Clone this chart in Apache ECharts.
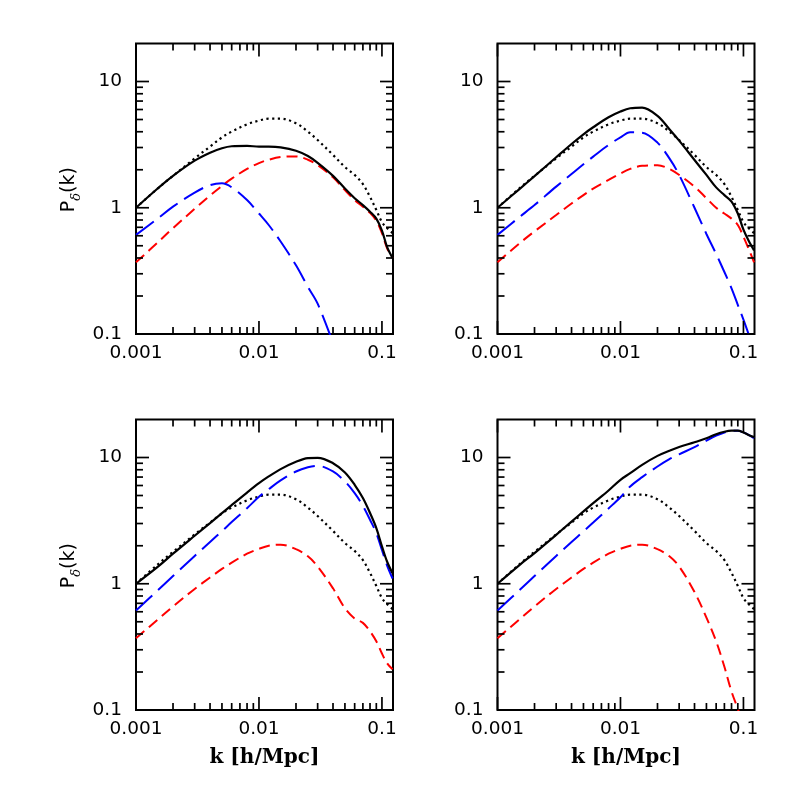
<!DOCTYPE html>
<html><head><meta charset="utf-8">
<script src="https://cdn.jsdelivr.net/npm/echarts@6/dist/echarts.min.js"></script>
<style>html,body{margin:0;padding:0;background:#fff}#c{width:797px;height:797px}</style>
</head><body><div id="c"></div><script>
// wavenumbers k [h/Mpc]
const kValues = [0.001, 0.0015, 0.002, 0.003, 0.004, 0.005, 0.006, 0.008, 0.01, 0.012, 0.015, 0.02, 0.025, 0.03, 0.04, 0.05, 0.06, 0.07, 0.08, 0.09, 0.1, 0.11, 0.122];
// dotted reference curve (same in all panels)
const linearP = [1.0, 1.42, 1.79, 2.46, 3.05, 3.61, 4.01, 4.58, 4.9, 5.08, 5.08, 4.67, 4.01, 3.44, 2.62, 2.1, 1.82, 1.54, 1.22, 0.96, 0.77, 0.69, 0.63];
// panel 1 (top left)
const p1Black = [1.0, 1.42, 1.79, 2.36, 2.73, 2.96, 3.07, 3.09, 3.05, 3.05, 3.01, 2.83, 2.57, 2.27, 1.79, 1.42, 1.19, 1.05, 0.93, 0.82, 0.66, 0.49, 0.40];
const p1Red   = [0.37, 0.53, 0.69, 0.98, 1.25, 1.49, 1.70, 2.03, 2.26, 2.40, 2.52, 2.55, 2.40, 2.18, 1.74, 1.38, 1.15, 1.02, 0.91, 0.79, 0.63, 0.48, 0.40];
const p1Blue  = [0.61, 0.82, 1.02, 1.32, 1.51, 1.56, 1.45, 1.15, 0.90, 0.73, 0.54, 0.35, 0.236, 0.174, 0.085, null, null, null, null, null, null, null, null];
// panel 2 (top right)
const p2Black = [1.0, 1.40, 1.78, 2.51, 3.2, 3.82, 4.34, 5.21, 5.78, 6.14, 6.22, 5.34, 4.19, 3.4, 2.39, 1.82, 1.45, 1.26, 1.12, 0.90, 0.67, 0.55, 0.46];
const p2Red   = [0.37, 0.52, 0.65, 0.875, 1.08, 1.26, 1.42, 1.66, 1.87, 2.03, 2.15, 2.17, 2.03, 1.82, 1.47, 1.19, 1.0, 0.9, 0.82, 0.73, 0.59, 0.475, 0.37];
const p2Blue  = [0.61, 0.84, 1.05, 1.47, 1.85, 2.21, 2.54, 3.14, 3.61, 3.96, 3.93, 3.28, 2.46, 1.82, 1.0, 0.62, 0.43, 0.31, 0.23, 0.17, 0.13, 0.1, 0.075];
// panel 3 (bottom left)
const p3Black = [1.0, 1.36, 1.73, 2.40, 3.02, 3.62, 4.2, 5.28, 6.26, 7.08, 8.09, 9.24, 9.88, 9.94, 9.02, 7.61, 6.08, 4.77, 3.63, 2.76, 1.98, 1.5, 1.21];
const p3Red   = [0.37, 0.52, 0.66, 0.91, 1.12, 1.31, 1.47, 1.73, 1.89, 2.0, 2.04, 1.88, 1.65, 1.37, 0.92, 0.64, 0.53, 0.49, 0.42, 0.35, 0.28, 0.235, 0.21];
const p3Blue  = [0.615, 0.885, 1.15, 1.66, 2.14, 2.61, 3.08, 3.97, 4.88, 5.61, 6.58, 7.75, 8.38, 8.59, 7.75, 6.46, 5.22, 4.14, 3.21, 2.52, 1.85, 1.4, 1.1];
// panel 4 (bottom right)
const p4Black = [1.0, 1.40, 1.75, 2.44, 3.11, 3.74, 4.35, 5.48, 6.66, 7.52, 8.75, 10.3, 11.3, 12.1, 13.2, 14.2, 15.3, 16.0, 16.3, 16.3, 15.8, 15.1, 14.5];
const p4Red   = [0.37, 0.52, 0.66, 0.91, 1.12, 1.31, 1.47, 1.73, 1.89, 2.0, 2.04, 1.88, 1.65, 1.37, 0.86, 0.54, 0.35, 0.22, 0.14, 0.102, 0.075, null, null];
const p4Blue  = [0.615, 0.885, 1.15, 1.66, 2.14, 2.6, 3.05, 3.95, 4.85, 5.9, 6.99, 8.49, 9.7, 10.6, 12.1, 13.6, 14.9, 15.8, 16.3, 16.3, 15.8, 15.1, 14.2];

const xTickValues = [0.001, 0.01, 0.1];
const xTickLabels = ['0.001', '0.01', '0.1'];
const yTickValues = [0.1, 1, 10];
const yTickLabels = ['0.1', '1', '10'];
const xMinorTicks = [0.002, 0.003, 0.004, 0.005, 0.006, 0.007, 0.008, 0.009, 0.02, 0.03, 0.04, 0.05, 0.06, 0.07, 0.08, 0.09];
const yMinorTicks = [0.2, 0.3, 0.4, 0.5, 0.6, 0.7, 0.8, 0.9, 2, 3, 4, 5, 6, 7, 8, 9];
const xTitle = 'k [h/Mpc]';
const X_MIN = 0.001, X_MAX = 0.123, Y_MIN = 0.1, Y_MAX = 20;

const panels = [
  {black: p1Black, red: p1Red, blue: p1Blue, left: 136, top: 43.5, yTitle: true, xTitle: false},
  {black: p2Black, red: p2Red, blue: p2Blue, left: 497.5, top: 43.5, yTitle: false, xTitle: false},
  {black: p3Black, red: p3Red, blue: p3Blue, left: 136, top: 419.5, yTitle: true, xTitle: true},
  {black: p4Black, red: p4Red, blue: p4Blue, left: 497.5, top: 419.5, yTitle: false, xTitle: true}
];
const W = 257, H = 290.5;

function pairs(vals) { return kValues.map((k, i) => [k, vals[i]]); }
function labelFmt(values, labels) {
  return function (v) {
    for (let i = 0; i < values.length; i++) {
      if (Math.abs(Math.log10(v) - Math.log10(values[i])) < 1e-6) return labels[i];
    }
    return '';
  };
}

const grids = [], xAxes = [], yAxes = [], series = [], graphics = [];
const labelFont = 'DejaVu Sans';

panels.forEach((pn, i) => {
  grids.push({left: pn.left, top: pn.top, width: W, height: H, show: true, borderColor: '#000', borderWidth: 2,
    backgroundColor: 'transparent', containLabel: false, outerBoundsMode: 'none'});
  xAxes.push({type: 'log', logBase: 10, gridIndex: i, min: X_MIN, max: X_MAX, position: 'bottom',
    axisLine: {show: false, onZero: false}, splitLine: {show: false}, axisTick: {show: false},
    axisLabel: {show: true, formatter: labelFmt(xTickValues, xTickLabels), color: '#000', fontSize: 18.5, fontFamily: labelFont, margin: 10}});
  yAxes.push({type: 'log', logBase: 10, gridIndex: i, min: Y_MIN, max: Y_MAX, position: 'left',
    axisLine: {show: false, onZero: false}, splitLine: {show: false}, axisTick: {show: false},
    axisLabel: {show: true, formatter: labelFmt(yTickValues, yTickLabels), color: '#000', fontSize: 18.5, fontFamily: labelFont, margin: 14}});
  const common = {type: 'line', xAxisIndex: i, yAxisIndex: i, symbol: 'none', smooth: 0.35, silent: true, clip: true, animation: false};
  series.push(Object.assign({}, common, {data: pairs(linearP), lineStyle: {color: '#000', width: 2.2, type: [2.2, 3.5]}, z: 2}));
  series.push(Object.assign({}, common, {data: pairs(pn.red), lineStyle: {color: '#ff0000', width: 2, type: [11, 6]}, z: 3}));
  series.push(Object.assign({}, common, {data: pairs(pn.blue), lineStyle: {color: '#0000ff', width: 2, type: [22, 8]}, z: 4}));
  series.push(Object.assign({}, common, {data: pairs(pn.black), lineStyle: {color: '#000', width: 2.2}, z: 5}));
  if (pn.yTitle) {
    graphics.push({type: 'text', x: 69, y: pn.top + H / 2 + 1, rotation: Math.PI / 2,
      style: {text: '{p|P}{d|δ}{p|(k)}', align: 'center', verticalAlign: 'middle', fill: '#000',
        rich: {p: {fontSize: 19, fontFamily: 'DejaVu Sans', lineHeight: 20, verticalAlign: 'middle', fill: '#000'},
               d: {fontSize: 13, fontFamily: 'DejaVu Serif', fontStyle: 'italic', lineHeight: 28, verticalAlign: 'bottom', fill: '#000'}}}});
  }
  if (pn.xTitle) {
    graphics.push({type: 'text', x: pn.left + W / 2, y: 758,
      style: {text: xTitle, align: 'center', verticalAlign: 'middle', fill: '#000', fontSize: 20, fontFamily: 'DejaVu Serif', fontWeight: 'bold'}});
  }
});

const chart = echarts.init(document.getElementById('c'), null, {renderer: 'canvas'});
chart.setOption({animation: false, backgroundColor: '#fff', grid: grids, xAxis: xAxes, yAxis: yAxes, series: series});

// tick marks on all four sides; positions along each axis come from the grid's own scales
const tickStyle = {stroke: '#000', lineWidth: 1.7};
const TW = 1.7;
panels.forEach((pn, i) => {
  const finder = {xAxisIndex: i, yAxisIndex: i};
  const bottom = pn.top + H, top = pn.top, left = pn.left, right = pn.left + W;
  const xAt = v => { const p = chart.convertToPixel(finder, [v, 1]); return p ? Number(p[0]) : NaN; };
  const yAt = v => { const p = chart.convertToPixel(finder, [0.01, v]); return p ? Number(p[1]) : NaN; };
  const addX = (v, len) => {
    const x = xAt(v);
    if (!isFinite(x)) return;
    graphics.push({type: 'rect', z: 50, silent: true, shape: {x: x - TW / 2, y: bottom - len, width: TW, height: len}, style: {fill: '#000'}});
    graphics.push({type: 'rect', z: 50, silent: true, shape: {x: x - TW / 2, y: top, width: TW, height: len}, style: {fill: '#000'}});
  };
  const addY = (v, len) => {
    const y = yAt(v);
    if (!isFinite(y)) return;
    graphics.push({type: 'line', z: 50, silent: true, shape: {x1: left, y1: y, x2: left + len, y2: y}, style: tickStyle});
    graphics.push({type: 'line', z: 50, silent: true, shape: {x1: right, y1: y, x2: right - len, y2: y}, style: tickStyle});
  };
  xTickValues.forEach(v => addX(v, 13));
  xMinorTicks.forEach(v => addX(v, 7));
  yTickValues.forEach(v => addY(v, 13));
  yMinorTicks.forEach(v => addY(v, 7));
});
chart.setOption({graphic: graphics});
</script></body></html>
